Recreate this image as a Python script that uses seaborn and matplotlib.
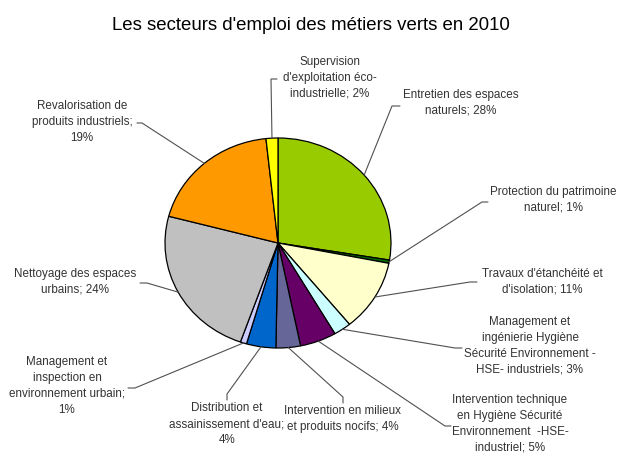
import numpy as np
import matplotlib
matplotlib.use("Agg")
import matplotlib.pyplot as plt
import seaborn as sns

# sectors, clockwise from 12 o'clock
sectors = [
    "Entretien des espaces\nnaturels",
    "Protection du patrimoine\nnaturel",
    "Travaux d'étanchéité et\nd'isolation",
    "Management et\ningénierie Hygiène\nSécurité Environnement -\nHSE- industriels",
    "Intervention technique\nen Hygiène Sécurité\nEnvironnement  -HSE-\nindustriel",
    "Intervention en milieux\net produits nocifs",
    "Distribution et\nassainissement d'eau;\n",
    "Management et\ninspection en\nenvironnement urbain;\n",
    "Nettoyage des espaces\nurbains",
    "Revalorisation de\nproduits industriels;\n",
    "Supervision\nd'exploitation éco-\nindustrielle",
]
# slice sizes
shares = [27.6, 0.5, 11.0, 2.5, 5.2, 3.5, 4.2, 0.9, 23.7, 19.2, 1.7]
# percentages printed on the labels
shown_pct = [28, 1, 11, 3, 5, 4, 4, 1, 24, 19, 2]
colors = ["#99CC00", "#006600", "#FFFFCC", "#CCFFFF", "#660066", "#666699",
          "#0066CC", "#CCCCFF", "#C0C0C0", "#FF9900", "#FFFF00"]

# layout in pixels (from top-left): label centre, elbow, tick end
label_xy = [(461, 103), (553, 200), (542, 282), (530, 346), (510, 424),
            (343, 419), (227, 424), (67, 386), (75, 282), (82, 122), (330, 78)]
elbow_xy = [(392, 106), (482, 202), (470, 282), (455, 348), (445, 426),
            (343, 397), (227, 394), (135, 388), (147, 283), (142, 123), (271, 79)]
tick_xy = [(400, 106), (488, 202), (477, 282), (462, 348), (451, 426),
           (343, 403), (227, 400), (128, 388), (140, 283), (137, 123), (277, 79)]

W, H = 620, 465
cx, cy, rx, ry = 278, 243, 113, 105


def make_label(name, pct):
    if name.endswith("\n"):
        return f"{name}{pct}%"
    return f"{name}; {pct}%"


def main():
    sns.set_theme(style="white")
    plt.rcParams['font.family'] = ['Liberation Sans', 'DejaVu Sans']

    fig = plt.figure(figsize=(W / 100, H / 100), dpi=100)
    fig.patch.set_facecolor("white")

    # pie axes, slightly wider than tall like the original
    pie_ax = fig.add_axes([(cx - rx) / W, (H - cy - ry) / H, 2 * rx / W, 2 * ry / H])
    wedges, _ = pie_ax.pie(shares, colors=colors, startangle=90, counterclock=False,
                           wedgeprops=dict(edgecolor="black", linewidth=0.9))
    pie_ax.set_xlim(-1, 1)
    pie_ax.set_ylim(-1, 1)
    pie_ax.set_aspect("auto")
    pie_ax.axis("off")

    # overlay in pixel coordinates for labels and leader lines
    over = fig.add_axes([0, 0, 1, 1], zorder=5)
    over.set_xlim(0, W)
    over.set_ylim(H, 0)
    over.axis("off")
    over.patch.set_alpha(0)

    for i, w in enumerate(wedges):
        ang = np.deg2rad((w.theta1 + w.theta2) / 2)
        disp = pie_ax.transData.transform((np.cos(ang), np.sin(ang)))
        px, py = over.transData.inverted().transform(disp)
        ex, ey = elbow_xy[i]
        tx, ty = tick_xy[i]
        over.plot([px, ex, tx], [py, ey, ty], color="#505050", lw=0.8,
                  solid_joinstyle="miter")
        over.text(label_xy[i][0], label_xy[i][1], make_label(sectors[i], shown_pct[i]),
                  ha="center", va="center", multialignment="center",
                  fontsize=8.4, linespacing=1.42, color="#333333")

    fig.text(311 / W, 1 - 25 / H, "Les secteurs d'emploi des métiers verts en 2010",
             ha="center", va="center", fontsize=13.4, color="black")

    fig.savefig("out.png", dpi=100, facecolor="white")


if __name__ == '__main__':
    main()
